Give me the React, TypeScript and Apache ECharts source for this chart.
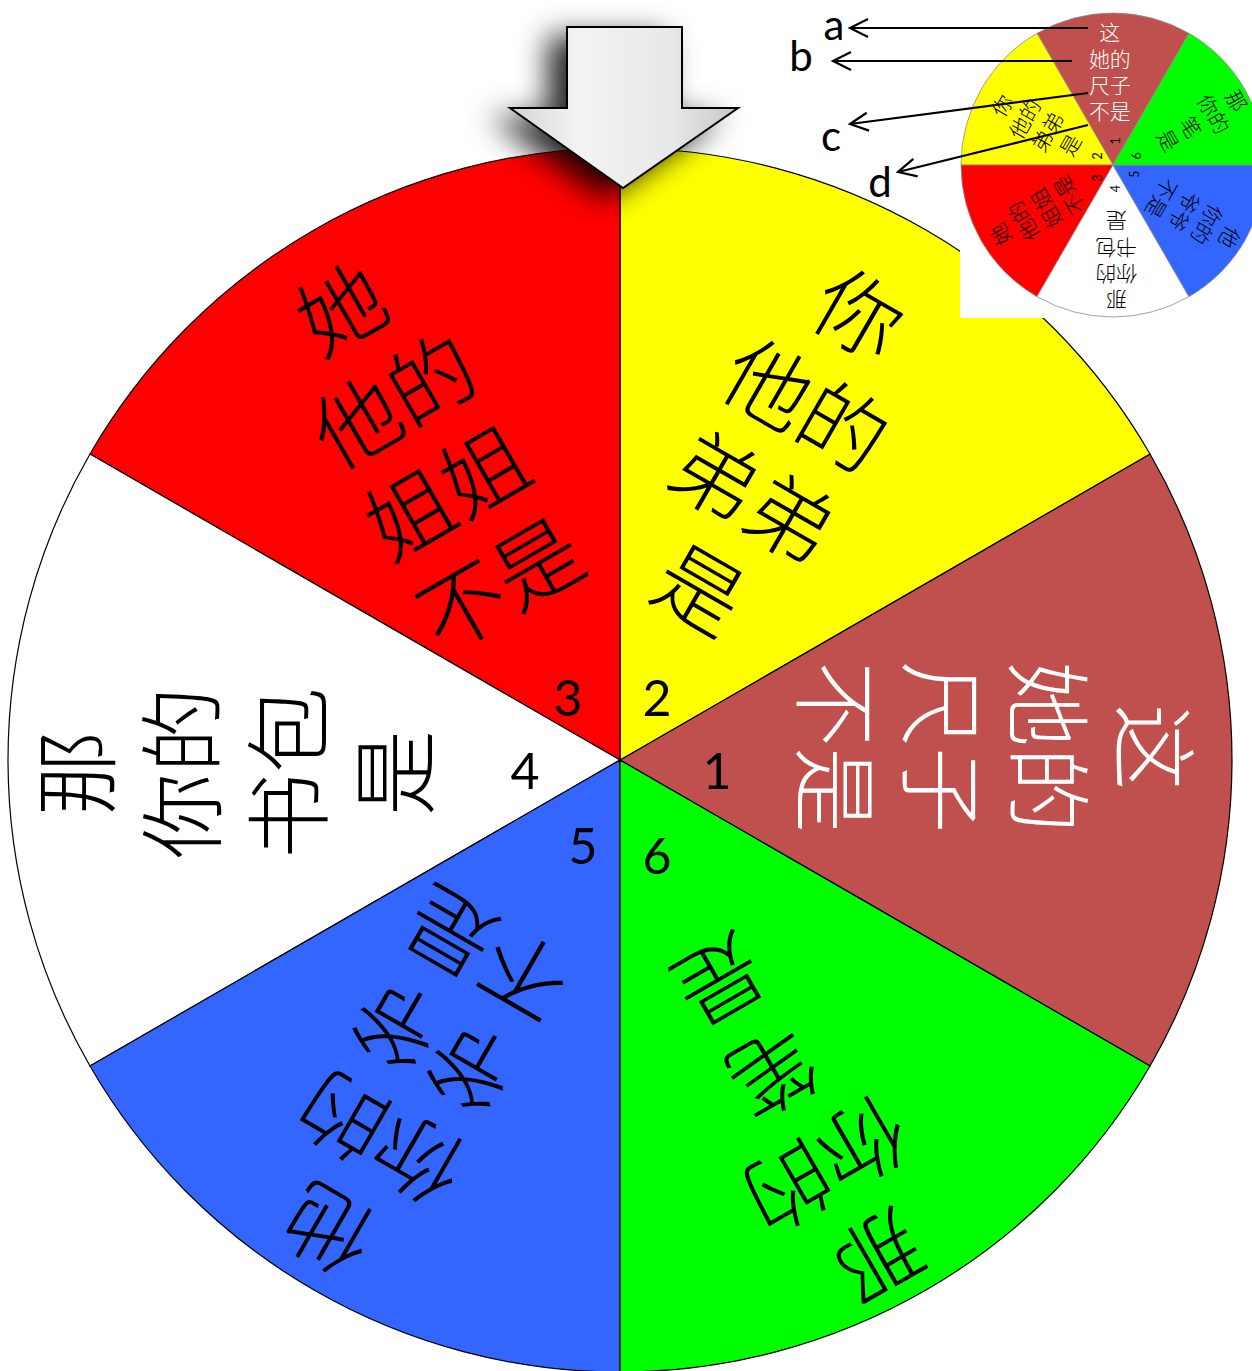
import React, { useEffect, useRef } from "react";
import * as echarts from "echarts";

// ---------- data ----------
const sliceNumbers = ["1", "2", "3", "4", "5", "6"];
const sliceValues = [1, 1, 1, 1, 1, 1];
const sliceTexts = [
  "这\n她的\n尺子\n不是",
  "你\n他的\n弟弟\n是",
  "她\n他的\n姐姐\n不是",
  "那\n你的\n书包\n是",
  "他\n你的\n爷爷\n不是",
  "那\n你的\n笔\n是",
];
const pointerLabels = ["a", "b", "c", "d"];

// ---------- styling / layout ----------
const sliceColors = ["#C0504D", "#FFFF00", "#FF0000", "#FFFFFF", "#3366FF", "#00FF00"];
const textColors = ["#FFFFFF", "#000000", "#000000", "#000000", "#000000", "#000000"];
const MAIN = { cx: 620, cy: 760, r: 612 };
const INSET = { cx: 1113, cy: 165, r: 152 };
const CJK = "'Noto Sans CJK SC', 'Noto Sans CJK TC', sans-serif";
const LATIN = "Lato, 'Open Sans', 'Liberation Sans', sans-serif";

// text-block offsets from the wheel centre (main wheel, px)
const textOffsets = [
  [379, -13],
  [162, -313],
  [-202, -318],
  [-390, 13],
  [-215, 336],
  [181, 363],
];
const numberOffsets = [
  [97, 10],
  [37, -63],
  [-52, -63],
  [-95, 10],
  [-37, 85],
  [37, 95],
];
const pointerStarts = [
  [1088, 28],
  [1072, 61],
  [1088, 93],
  [1088, 125],
];
const pointerTips = [
  [850, 28],
  [833, 61],
  [850, 124],
  [898, 172],
];
const pointerLabelPos = [
  [834, 24],
  [801, 55],
  [831, 135],
  [880, 181],
];

export default function App() {
  const ref = useRef<HTMLDivElement>(null);

  useEffect(() => {
    if (!ref.current) return;
    const chart = echarts.init(ref.current, null, { renderer: "svg" });
    const D = Math.PI / 180;
    const s = INSET.r / MAIN.r;
    const graphics: any[] = [];

    // white backing behind the inset wheel
    graphics.push({
      type: "rect",
      z: 5,
      silent: true,
      shape: { x: 960, y: 0, width: 292, height: 318 },
      style: { fill: "#FFFFFF" },
    });

    sliceTexts.forEach((t, i) => {
      const [dx, dy] = textOffsets[i];
      graphics.push({
        type: "text",
        z: 3,
        silent: true,
        x: MAIN.cx + dx,
        y: MAIN.cy + dy,
        rotation: (i * 60 - 90) * D,
        style: {
          text: t,
          fill: textColors[i],
          fontSize: 86,
          fontWeight: 300,
          fontFamily: CJK,
          align: "center",
          verticalAlign: "middle",
          lineHeight: 106,
        },
      });
      graphics.push({
        type: "text",
        z: 7,
        silent: true,
        x: INSET.cx + dy * s,
        y: INSET.cy - dx * s,
        rotation: i * 60 * D,
        style: {
          text: t,
          fill: textColors[i],
          fontSize: 84 * s,
          fontWeight: 300,
          fontFamily: CJK,
          align: "center",
          verticalAlign: "middle",
          lineHeight: 106 * s,
        },
      });
    });

    sliceNumbers.forEach((n, i) => {
      const [dx, dy] = numberOffsets[i];
      graphics.push({
        type: "text",
        z: 3,
        silent: true,
        x: MAIN.cx + dx,
        y: MAIN.cy + dy,
        style: {
          text: n,
          fill: "#000",
          fontSize: 50,
          fontFamily: LATIN,
          align: "center",
          verticalAlign: "middle",
        },
      });
      graphics.push({
        type: "text",
        z: 7,
        silent: true,
        x: INSET.cx + dy * s,
        y: INSET.cy - dx * s,
        rotation: 90 * D,
        style: {
          text: n,
          fill: "#000",
          fontSize: 50 * s,
          fontFamily: LATIN,
          align: "center",
          verticalAlign: "middle",
        },
      });
    });

    // pointer arrow at the top
    graphics.push({
      type: "polygon",
      z: 4,
      silent: true,
      shape: {
        points: [
          [567, 27],
          [682, 27],
          [682, 108],
          [738, 108],
          [623, 188],
          [510, 108],
          [567, 108],
        ],
      },
      style: {
        fill: new echarts.graphic.LinearGradient(0, 0, 1, 0, [
          { offset: 0, color: "#d4d4d4" },
          { offset: 0.3, color: "#f3f3f3" },
          { offset: 0.7, color: "#e8e8e8" },
          { offset: 1, color: "#c8c8c8" },
        ]),
        stroke: "#000",
        lineWidth: 2,
        shadowBlur: 30,
        shadowColor: "rgba(0,0,0,0.85)",
        shadowOffsetX: -18,
        shadowOffsetY: 10,
      },
    });

    // labelled pointer lines a-d
    pointerLabels.forEach((lab, i) => {
      const [x1, y1] = pointerStarts[i];
      const [x2, y2] = pointerTips[i];
      const len = Math.hypot(x2 - x1, y2 - y1);
      const ux = (x2 - x1) / len;
      const uy = (y2 - y1) / len;
      const L = 18;
      const W = 9;
      graphics.push({
        type: "line",
        z: 8,
        silent: true,
        shape: { x1, y1, x2, y2 },
        style: { stroke: "#000", lineWidth: 2.2 },
      });
      graphics.push({
        type: "polyline",
        z: 8,
        silent: true,
        shape: {
          points: [
            [x2 - ux * L - uy * W, y2 - uy * L + ux * W],
            [x2, y2],
            [x2 - ux * L + uy * W, y2 - uy * L - ux * W],
          ],
        },
        style: { stroke: "#000", lineWidth: 2.2, fill: "none" },
      });
      graphics.push({
        type: "text",
        z: 8,
        silent: true,
        x: pointerLabelPos[i][0],
        y: pointerLabelPos[i][1],
        style: {
          text: lab,
          fill: "#000",
          fontSize: 42,
          fontFamily: LATIN,
          align: "center",
          verticalAlign: "middle",
        },
      });
    });

    const pieData = (bw: number, bc: string) =>
      sliceValues.map((v, i) => ({
        value: v,
        name: sliceNumbers[i],
        itemStyle: { color: sliceColors[i], borderColor: bc, borderWidth: bw },
      }));

    chart.setOption({
      animation: false,
      series: [
        {
          type: "pie",
          z: 1,
          silent: true,
          center: [MAIN.cx, MAIN.cy],
          radius: [0, MAIN.r],
          startAngle: -30,
          clockwise: false,
          label: { show: false },
          labelLine: { show: false },
          emphasis: { disabled: true },
          data: pieData(1.2, "#000"),
        },
        {
          type: "pie",
          z: 6,
          silent: true,
          center: [INSET.cx, INSET.cy],
          radius: [0, INSET.r],
          startAngle: 60,
          clockwise: false,
          label: { show: false },
          labelLine: { show: false },
          emphasis: { disabled: true },
          data: pieData(0.8, "#8a8a8a"),
        },
      ],
      graphic: { elements: graphics },
    });

    return () => chart.dispose();
  }, []);

  return (
    <div
      ref={ref}
      style={{ position: "absolute", left: 0, top: 0, width: 1252, height: 1371 }}
    />
  );
}
